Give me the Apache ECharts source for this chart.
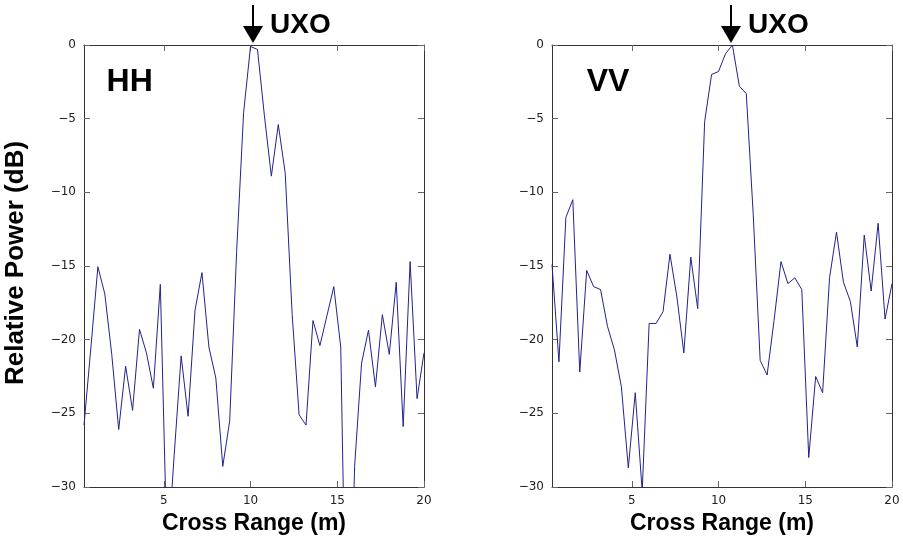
<!DOCTYPE html>
<html>
<head>
<meta charset="utf-8">
<title>HH / VV cross range</title>
<script src="https://cdn.jsdelivr.net/npm/echarts@6/dist/echarts.min.js"></script>
<style>
	html, body { margin: 0; padding: 0; background: #fff; }
	#main { width: 903px; height: 541px; }
</style>
</head>
<body>
<div id="main"></div>
<script>
// 横向距离 (m)
const crossRange = [
	0.4, 0.8, 1.2, 1.6, 2.0, 2.4, 2.8, 3.2, 3.6, 4.0,
	4.4, 4.8, 5.2, 5.6, 6.0, 6.4, 6.8, 7.2, 7.6, 8.0,
	8.4, 8.8, 9.2, 9.6, 10.0, 10.4, 10.8, 11.2, 11.6, 12.0,
	12.4, 12.8, 13.2, 13.6, 14.0, 14.4, 14.8, 15.2, 15.6, 16.0,
	16.4, 16.8, 17.2, 17.6, 18.0, 18.4, 18.8, 19.2, 19.6, 20.0
];
// HH 相对功率 (dB)
const hhPower = [
	-25.8, -20.5, -15.05, -16.9, -21.0, -26.1, -21.8, -24.8, -19.3, -20.9,
	-23.3, -16.25, -35.0, -27.8, -21.1, -25.2, -18.0, -15.45, -20.5, -22.6,
	-28.6, -25.5, -14.0, -4.6, -0.1, -0.3, -4.8, -8.9, -5.4, -8.7,
	-18.3, -25.1, -25.8, -18.7, -20.4, -18.4, -16.4, -20.5, -47.0, -28.6,
	-21.6, -19.35, -23.2, -18.3, -21.0, -16.1, -25.9, -14.7, -24.0, -20.9
];
// VV 相对功率 (dB)
const vvPower = [
	-14.9, -21.5, -11.7, -10.5, -22.2, -15.3, -16.4, -16.6, -19.1, -20.7,
	-23.2, -28.7, -23.6, -30.3, -18.9, -18.9, -18.1, -14.2, -17.1, -20.9,
	-14.4, -17.9, -5.2, -2.0, -1.8, -0.6, 0.0, -2.8, -3.3, -11.5,
	-21.4, -22.4, -18.7, -14.7, -16.2, -15.8, -16.6, -28.0, -22.5, -23.6,
	-15.8, -12.7, -16.1, -17.4, -20.5, -12.9, -16.7, -12.1, -18.6, -16.2
];
const xTickValues = [5, 10, 15, 20];
const panelNames = ['HH', 'VV'];
const panelNameAt = [[1.7, -2.5], [2.4, -2.5]];
const uxoRange = [10.15, 10.7];

const LINE_COLOR = '#22228c';
const AXIS_COLOR = '#333';
const TICK_COLOR = '#666';
const BOLD_FONT = '"Liberation Sans", Arial, sans-serif';

const panelGrids = [
	{left: 84, top: 45, width: 340, height: 442},
	{left: 552, top: 45, width: 340, height: 442}
];

function minusSign(v){
	return String(v).replace('-', '\u2212');
}

/**
 * 生成一个面板的四条坐标轴 (下/上, 左/右)
 */
function buildAxes(gridIndex, xAxisList, yAxisList){
	let tick = {show: true, inside: true, length: 6, lineStyle: {color: TICK_COLOR}};
	let line = {show: true, onZero: false, lineStyle: {color: AXIS_COLOR, width: 1}};
	let labelStyle = {fontFamily: '"DejaVu Sans", sans-serif', fontSize: 12, color: '#222'};
	['bottom', 'top'].forEach(function(pos){
		xAxisList.push({
			type: 'value', gridIndex: gridIndex, position: pos,
			min: 0.4, max: 20,
			axisLine: line,
			axisTick: Object.assign({customValues: xTickValues}, tick),
			axisLabel: Object.assign({show: pos == 'bottom', customValues: xTickValues, margin: 8}, labelStyle),
			splitLine: {show: false},
			name: pos == 'bottom' ? 'Cross Range (m)' : '',
			nameLocation: 'middle',
			nameGap: 22,
			nameTextStyle: {fontFamily: BOLD_FONT, fontWeight: 'bold', fontSize: 23, color: '#000', verticalAlign: 'top'}
		});
	});
	['left', 'right'].forEach(function(pos){
		yAxisList.push({
			type: 'value', gridIndex: gridIndex, position: pos,
			min: -30, max: 0, interval: 5,
			axisLine: line,
			axisTick: tick,
			axisLabel: Object.assign({show: pos == 'left', margin: 8, formatter: minusSign}, labelStyle),
			splitLine: {show: false}
		});
	});
}

function zipData(xs, ys){
	let out = [];
	for(let i = 0; i < xs.length; i++){
		out.push([xs[i], ys[i]]);
	}
	return out;
}

let chart = echarts.init(document.getElementById('main'), null, {renderer: 'canvas'});
let xAxisList = [];
let yAxisList = [];
buildAxes(0, xAxisList, yAxisList);
buildAxes(1, xAxisList, yAxisList);

let seriesList = [hhPower, vvPower].map(function(values, i){
	return {
		type: 'line',
		xAxisIndex: i * 2,
		yAxisIndex: i * 2,
		data: zipData(crossRange, values),
		symbol: 'none',
		clip: true,
		lineStyle: {color: LINE_COLOR, width: 1},
		silent: true
	};
});

chart.setOption({
	animation: false,
	backgroundColor: '#fff',
	grid: panelGrids,
	xAxis: xAxisList,
	yAxis: yAxisList,
	series: seriesList
});

// 标注: 面板名称, UXO 箭头, 纵轴标题
let graphics = [{
	type: 'text',
	x: 16, y: 263,
	rotation: Math.PI / 2,
	style: {
		text: 'Relative Power (dB)',
		font: 'bold 26px ' + BOLD_FONT,
		fill: '#000',
		align: 'center',
		verticalAlign: 'middle'
	}
}];
panelNames.forEach(function(name, i){
	let p = chart.convertToPixel({gridIndex: i}, panelNameAt[i]);
	graphics.push({
		type: 'text', x: p[0], y: p[1],
		style: {text: name, font: 'bold 32px ' + BOLD_FONT, fill: '#000', align: 'left', verticalAlign: 'middle'}
	});
	let a = chart.convertToPixel({gridIndex: i}, [uxoRange[i], 0]);
	let ax = Math.round(a[0]);
	graphics.push({
		type: 'line',
		shape: {x1: ax, y1: 5, x2: ax, y2: 28},
		style: {stroke: '#000', lineWidth: 2}
	});
	graphics.push({
		type: 'polygon',
		shape: {points: [[ax - 10, 26], [ax + 10, 26], [ax, 43]]},
		style: {fill: '#000'}
	});
	graphics.push({
		type: 'text', x: ax + 17, y: 25,
		style: {text: 'UXO', font: 'bold 28px ' + BOLD_FONT, fill: '#000', align: 'left', verticalAlign: 'middle'}
	});
});
chart.setOption({graphic: graphics});
</script>
</body>
</html>
